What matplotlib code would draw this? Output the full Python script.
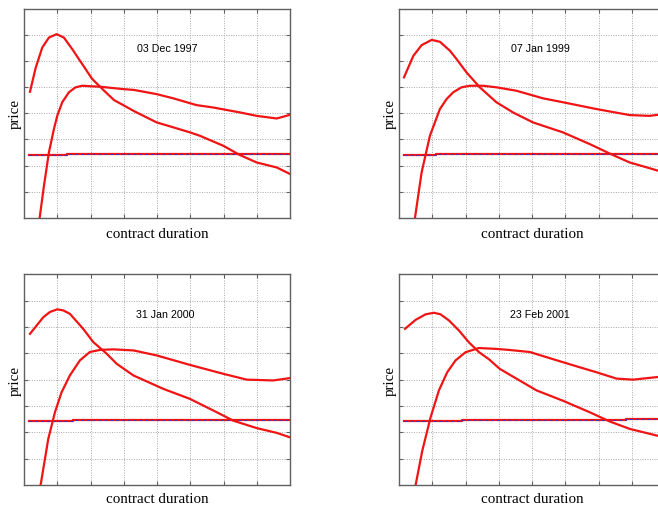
import matplotlib
matplotlib.use("Agg")
import matplotlib.pyplot as plt

titles = ["03 Dec 1997", "07 Jan 1999", "31 Jan 2000", "23 Feb 2001"]

# Curve A (hump) per panel: x, y
hump_x = [
    [0.18, 0.35, 0.55, 0.75, 0.98, 1.2, 1.45, 1.75, 2.05, 2.41, 2.71, 3.0, 3.31, 3.99, 4.39, 4.99, 5.29, 5.99, 6.5, 7.0, 7.6, 8.0],
    [0.15, 0.43, 0.68, 0.98, 1.23, 1.53, 1.73, 2.03, 2.43, 2.93, 3.43, 4.03, 4.93, 5.74, 6.44, 6.94, 7.54, 7.78, 8.0],
    [0.18, 0.58, 0.78, 1.0, 1.18, 1.38, 1.78, 2.08, 2.49, 2.79, 3.29, 4.19, 4.99, 5.69, 6.3, 7.0, 7.6, 8.0],
    [0.18, 0.5, 0.8, 1.05, 1.25, 1.5, 1.8, 2.1, 2.4, 2.7, 3.03, 3.3, 4.14, 4.93, 5.74, 6.34, 6.94, 7.78, 8.0],
]
hump_y = [
    [4.82, 5.73, 6.51, 6.89, 7.02, 6.89, 6.45, 5.88, 5.31, 4.86, 4.50, 4.30, 4.08, 3.65, 3.50, 3.27, 3.14, 2.76, 2.40, 2.12, 1.93, 1.68],
    [5.37, 6.19, 6.60, 6.80, 6.73, 6.39, 6.07, 5.56, 4.99, 4.42, 4.03, 3.65, 3.27, 2.82, 2.40, 2.12, 1.90, 1.81, 1.74],
    [5.74, 6.37, 6.57, 6.67, 6.63, 6.50, 5.93, 5.43, 4.98, 4.60, 4.16, 3.65, 3.27, 2.83, 2.44, 2.16, 1.98, 1.81],
    [5.93, 6.27, 6.48, 6.54, 6.48, 6.25, 5.87, 5.42, 5.05, 4.78, 4.41, 4.21, 3.59, 3.20, 2.76, 2.41, 2.13, 1.87, 1.80],
]

# Curve B (rising then flat) per panel
rise_x = [
    [0.47, 0.6, 0.75, 0.9, 1.0, 1.15, 1.35, 1.55, 1.75, 2.31, 3.0, 3.31, 3.99, 4.49, 5.19, 5.69, 6.5, 7.0, 7.6, 8.0],
    [0.48, 0.68, 0.93, 1.23, 1.43, 1.63, 1.88, 2.13, 2.53, 2.93, 3.53, 4.33, 4.93, 5.94, 6.94, 7.54, 7.78, 8.0],
    [0.50, 0.73, 0.93, 1.13, 1.38, 1.68, 1.98, 2.29, 2.69, 3.29, 3.99, 4.99, 6.0, 6.7, 7.5, 8.0],
    [0.50, 0.7, 0.95, 1.2, 1.45, 1.7, 2.0, 2.4, 2.9, 3.3, 3.93, 4.73, 5.33, 5.94, 6.54, 7.04, 7.78, 8.0],
]
rise_y = [
    [0.0, 1.23, 2.51, 3.40, 3.90, 4.42, 4.80, 4.99, 5.05, 5.01, 4.92, 4.89, 4.73, 4.57, 4.31, 4.22, 4.03, 3.90, 3.80, 3.94],
    [0.0, 1.74, 3.14, 4.16, 4.54, 4.80, 4.99, 5.05, 5.05, 4.99, 4.86, 4.57, 4.42, 4.16, 3.93, 3.90, 3.94, 3.96],
    [0.0, 1.75, 2.76, 3.52, 4.16, 4.73, 5.05, 5.13, 5.15, 5.11, 4.92, 4.56, 4.22, 4.00, 3.97, 4.06],
    [0.0, 1.30, 2.57, 3.59, 4.28, 4.73, 5.04, 5.20, 5.17, 5.13, 5.05, 4.74, 4.51, 4.28, 4.04, 4.00, 4.10, 4.12],
]

# Flat reference line per panel
flat_x = [
    [0.16, 1.28, 1.28, 8.0],
    [0.15, 1.11, 1.11, 8.0],
    [0.16, 1.48, 1.48, 7.7, 7.7, 8.0],
    [0.15, 1.88, 1.88, 6.84, 6.84, 8.0],
]
flat_y = [
    [2.40, 2.40, 2.44, 2.44],
    [2.42, 2.42, 2.44, 2.44],
    [2.42, 2.42, 2.46, 2.46, 2.48, 2.48],
    [2.42, 2.42, 2.47, 2.47, 2.50, 2.50],
]

title_pos = [(4.30, 6.49), (4.25, 6.48), (4.26, 6.50), (4.24, 6.50)]

W, H = 658, 506
fig = plt.figure(figsize=(W / 100, H / 100), dpi=100)

# axes rectangles in pixels: left, top, width, height
rects = [
    (24, 9.5, 266, 209.5),
    (399, 9.5, 266, 209.5),
    (24, 275.3, 266, 210.7),
    (399, 275.3, 266, 210.7),
]

red = "#f01414"
spine_c = "#606060"

for i, (l, t, w, h) in enumerate(rects):
    ax = fig.add_axes([l / W, 1 - (t + h) / H, w / W, h / H])
    ax.set_xlim(0, 8)
    ax.set_ylim(0, 8)
    ax.set_xticks(range(1, 8))
    ax.set_yticks(range(1, 8))
    ax.set_xticklabels([])
    ax.set_yticklabels([])
    ax.tick_params(direction="in", length=3, width=0.8, color=spine_c,
                   top=True, right=True)
    ax.grid(True, linestyle=(0, (1, 1.5)), color="#a8a8a8", linewidth=0.7)
    for s in ax.spines.values():
        s.set_color(spine_c)
        s.set_linewidth(1.0)
    ax.plot(flat_x[i], flat_y[i], color=red, lw=1.6, zorder=3)
    ax.plot(flat_x[i], flat_y[i], color="#3535c8", lw=0.7,
            linestyle=(0, (3, 3)), zorder=4)
    ax.plot(hump_x[i], hump_y[i], color=red, lw=1.6, zorder=5,
            solid_joinstyle="round")
    ax.plot(rise_x[i], rise_y[i], color=red, lw=1.6, zorder=5,
            solid_joinstyle="round")
    ax.text(title_pos[i][0], title_pos[i][1], titles[i], ha="center",
            va="center", fontsize=7.7, family="Liberation Sans")
    ax.set_xlabel("contract duration", family="Liberation Serif",
                  fontsize=10.8, labelpad=3 if i < 2 else 1.5)
    ax.set_ylabel("price", family="Liberation Serif", fontsize=10.8,
                  labelpad=-2)

fig.savefig("out.png", dpi=100)
